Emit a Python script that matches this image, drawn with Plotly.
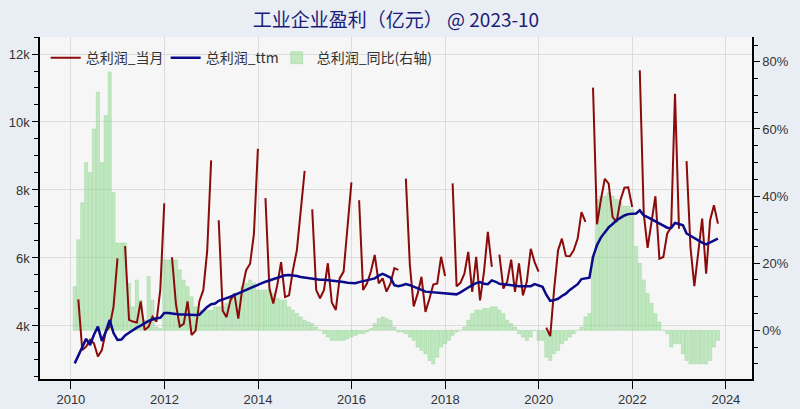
import pandas as pd
import plotly.graph_objects as go

# ---- data ----
start_month = "2010-01-31"
n_months = 166  # 2010-01 .. 2023-10

# monthly profit (当月), Feb..Dec each year (Jan not reported)
red_2010 = [4780, 3290, 3390, 3590, 3490, 3100, 3290, 3830, 3980, 4570, 5990]
red_2011 = [6350, 4180, 4130, 4100, 4720, 3880, 3980, 4270, 4130, 5060, 7610]
red_2012 = [6020, 4650, 3980, 4060, 4720, 3735, 3860, 4720, 5060, 6200, 8870]
red_2013 = [7110, 4450, 4260, 4760, 4950, 4215, 5100, 5640, 5830, 6710, 9215]
red_2014 = [7760, 5100, 4660, 5200, 5880, 4850, 4900, 5640, 6225, 7400, 8560]
red_2015 = [7430, 5060, 4815, 5060, 5845, 4690, 4470, 5400, 5600, 6800, 8225]
red_2016 = [7700, 5060, 5250, 5600, 6090, 5250, 5400, 5010, 5250, 5700, 5650]
red_2017 = [8335, 5800, 4575, 4950, 5445, 4415, 4800, 5220, 5250, 6035, 5470]
red_2018 = [8195, 5165, 5270, 5540, 6180, 5005, 6035, 4750, 5600, 6770, 5735]
red_2019 = [6100, 5100, 5300, 5950, 5000, 5840, 4900, 5300, 6270, 5880, 5600]
red_2020 = [3950, 3700, 5060, 6225, 6570, 6060, 6050, 6225, 6570, 7350, 7060]
red_2021 = [11010, 6990, 7700, 8330, 8185, 7200, 7060, 7700, 8070, 8080, 7500]
red_2022 = [11520, 7300, 6300, 7060, 7815, 5980, 6030, 6715, 6910, 10830, 6860]
red_2023 = [8850, 6300, 5170, 6225, 7160, 5540, 7110, 7550, 7010]

# trailing twelve month (ttm) line, Jan..Dec each year
ttm_2010 = [2900, 3120, 3350, 3620, 3440, 3740, 3980, 3560, 3830, 4180, 3790, 3590]
ttm_2011 = [3600, 3720, 3800, 3880, 3950, 4010, 4080, 4150, 4190, 4230, 4240, 4380]
ttm_2012 = [4380, 4360, 4350, 4340, 4340, 4330, 4330, 4320, 4330, 4460, 4560, 4640]
ttm_2013 = [4660, 4740, 4790, 4820, 4860, 4900, 4960, 5010, 5060, 5120, 5180, 5220]
ttm_2014 = [5260, 5300, 5340, 5390, 5420, 5460, 5490, 5500, 5490, 5470, 5440, 5420]
ttm_2015 = [5400, 5380, 5360, 5360, 5360, 5350, 5320, 5310, 5300, 5290, 5270, 5260]
ttm_2016 = [5260, 5290, 5320, 5340, 5370, 5400, 5480, 5530, 5480, 5420, 5200, 5170]
ttm_2017 = [5200, 5230, 5200, 5160, 5120, 5060, 5010, 5000, 5000, 5000, 4990, 4970]
ttm_2018 = [4960, 4950, 4930, 4990, 5070, 5130, 5200, 5260, 5290, 5240, 5230, 5340]
ttm_2019 = [5300, 5240, 5230, 5210, 5200, 5190, 5170, 5170, 5170, 5170, 5230, 5200]
ttm_2020 = [5150, 4920, 4740, 4760, 4800, 4880, 4950, 5060, 5150, 5230, 5380, 5400]
ttm_2021 = [5420, 6030, 6380, 6600, 6760, 6900, 7000, 7110, 7180, 7250, 7290, 7300]
ttm_2022 = [7310, 7400, 7250, 7200, 7140, 7080, 7010, 6960, 6890, 6880, 7030, 7000]
ttm_2023 = [6960, 6720, 6650, 6570, 6500, 6450, 6400, 6450, 6520, 6570]

# year-on-year change (%), Jan..Dec each year (right axis)
yoy_2010 = [13, 27, 38, 50, 47, 60, 71, 50, 64, 77, 41, 26]
yoy_2011 = [26, 26, 14, 7, 15, 9, 3, 16, 9, 1, 0.5, 21]
yoy_2012 = [21, 21, 21, 18, 15, 13, 10, 7, 6, 6, 6, 6]
yoy_2013 = [7, 7, 7, 8, 10, 10, 11, 13, 14, 15, 14, 12]
yoy_2014 = [12, 12, 12, 11, 9.5, 9, 9, 7, 6, 5, 4, 3]
yoy_2015 = [2.5, 2, 1, 0, -1, -2, -3, -3, -3, -3, -2.5, -2]
yoy_2016 = [-1.5, -1, -1, -0.5, 0.5, 2, 3.5, 4, 3.5, 3, 1, -0.5]
yoy_2017 = [-0.5, -1, -2, -3, -5, -6, -7, -9, -10, -8, -5, -4]
yoy_2018 = [-3, -1.5, -0.5, 0, 1, 3, 5, 6, 6, 6.5, 6.5, 7]
yoy_2019 = [7, 6, 5, 3, 2, 1, -1, -2, -3, -2, 0, -3]
yoy_2020 = [-3, -8, -9, -7, -6, -4, -3, -2, -1, 0, 1, 4]
yoy_2021 = [5, 22, 39, 40, 40, 41, 40, 39, 38, 37, 37, 36]
yoy_2022 = [25, 20, 15, 11, 8, 5, 2.5, 0, -1, -5, -4, -4]
yoy_2023 = [-7, -9, -10, -10, -10, -10, -10, -9, -5, -3]

left_tickvals = [4000, 6000, 8000, 10000, 12000]
left_ticktext = ["4k", "6k", "8k", "10k", "12k"]
right_tickvals = [0, 20, 40, 60, 80]
right_ticktext = ["0%", "20%", "40%", "60%", "80%"]
x_tickyears = [2010, 2012, 2014, 2016, 2018, 2020, 2022, 2024]

title_text = "工业企业盈利（亿元） @ 2023-10"
name_red = "总利润_当月"
name_ttm = "总利润_ttm"
name_yoy = "总利润_同比(右轴)"

# ---- assemble ----
dates = pd.date_range(start_month, periods=n_months, freq=pd.offsets.MonthEnd())
red_years = [red_2010, red_2011, red_2012, red_2013, red_2014, red_2015, red_2016,
             red_2017, red_2018, red_2019, red_2020, red_2021, red_2022, red_2023]
red = []
for yr in red_years:
    red.append(None)
    red.extend(yr)
ttm = (ttm_2010 + ttm_2011 + ttm_2012 + ttm_2013 + ttm_2014 + ttm_2015 + ttm_2016 +
       ttm_2017 + ttm_2018 + ttm_2019 + ttm_2020 + ttm_2021 + ttm_2022 + ttm_2023)
yoy = (yoy_2010 + yoy_2011 + yoy_2012 + yoy_2013 + yoy_2014 + yoy_2015 + yoy_2016 +
       yoy_2017 + yoy_2018 + yoy_2019 + yoy_2020 + yoy_2021 + yoy_2022 + yoy_2023)

FONT = "Liberation Sans, Arial, Noto Sans CJK SC, sans-serif"
CJK = "Noto Sans CJK SC, sans-serif"
PAPER = "#e9eef4"

fig = go.Figure()
# bars on primary (right side) axis so they sit beneath the lines
fig.add_trace(go.Bar(
    x=dates, y=yoy, name=name_yoy, yaxis="y", legend="legend3",
    marker=dict(color="rgba(150,220,150,0.55)",
                line=dict(color="rgba(120,200,120,0.6)", width=0.5)),
))
fig.add_trace(go.Scatter(
    x=dates, y=red, name=name_red, yaxis="y2", mode="lines", legend="legend",
    line=dict(color="#8b0a0a", width=2), connectgaps=False,
))
fig.add_trace(go.Scatter(
    x=dates, y=ttm, name=name_ttm, yaxis="y2", mode="lines", legend="legend2",
    line=dict(color="#0a0a8a", width=2.5),
))

legend_common = dict(orientation="h", y=0.985, xanchor="left", yanchor="top",
                     bgcolor="rgba(0,0,0,0)",
                     font=dict(family=CJK, size=14, color="#333333"))

fig.update_layout(
    width=800, height=409,
    margin=dict(l=40, r=48, t=37, b=30, autoexpand=False),
    paper_bgcolor=PAPER,
    plot_bgcolor="#f6f6f6",
    font=dict(family=FONT, size=13, color="#333333"),
    title=dict(text=title_text, x=0.5, xanchor="center", xref="paper",
               y=1 - 20 / 409, yanchor="middle", yref="container",
               font=dict(family=CJK, size=19, color="#1c1c78")),
    bargap=0.12,
    showlegend=True,
    legend=dict(x=0.008, **legend_common),
    legend2=dict(x=0.1765, **legend_common),
    legend3=dict(x=0.3325, **legend_common),
    xaxis=dict(
        type="date", automargin=False,
        range=["2009-05-05", "2024-07-23"],
        tickvals=[pd.Timestamp(f"{y}-01-01") for y in x_tickyears],
        ticktext=[str(y) for y in x_tickyears],
        showgrid=True, gridcolor="#dcdcdc", gridwidth=1,
        showline=True, linecolor="black", linewidth=1.5,
        ticks="outside", ticklen=8, tickcolor="black",
        zeroline=False,
    ),
    yaxis=dict(
        side="right", automargin=False,
        range=[-14.5, 87.4],
        tickvals=right_tickvals, ticktext=right_ticktext,
        showgrid=False, zeroline=False,
        showline=True, linecolor="black", linewidth=1.5,
        ticks="outside", ticklen=6, tickcolor="black",
        minor=dict(dtick=5, ticks="outside", ticklen=4, tickcolor="black", showgrid=False),
    ),
    yaxis2=dict(
        side="left", overlaying="y", automargin=False,
        range=[2440, 12500],
        tickvals=left_tickvals, ticktext=left_ticktext,
        showgrid=True, gridcolor="#dcdcdc", gridwidth=1, zeroline=False,
        showline=True, linecolor="black", linewidth=1.5,
        ticks="outside", ticklen=6, tickcolor="black",
        minor=dict(dtick=500, ticks="outside", ticklen=4, tickcolor="black", showgrid=False),
    ),
)

# remove the page's default body margin so the figure sits at the window's corner
page_fix = ("document.body.style.margin='0';document.body.style.padding='0';"
            "document.body.style.background='" + PAPER + "';")
fig.write_html("out.html", post_script=page_fix, config={"displayModeBar": False})
